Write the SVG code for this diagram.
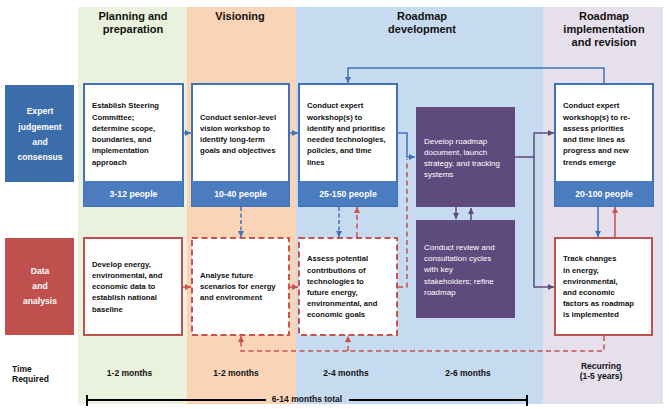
<svg xmlns="http://www.w3.org/2000/svg" width="669" height="409" viewBox="0 0 669 409">
<defs>
<style>
.hd{font-family:"Liberation Sans",Arial,sans-serif;font-weight:bold;font-size:11px;fill:#111;text-anchor:middle}
.bt{font-family:"Liberation Sans",Arial,sans-serif;font-weight:bold;font-size:7.7px;fill:#111}
.pt{font-family:"Liberation Sans",Arial,sans-serif;font-size:8px;fill:#fff}
.pp{font-family:"Liberation Sans",Arial,sans-serif;font-weight:bold;font-size:8.7px;fill:#fff;text-anchor:middle}
.lb{font-family:"Liberation Sans",Arial,sans-serif;font-weight:bold;font-size:8.6px;fill:#fff;text-anchor:middle}
.tm{font-family:"Liberation Sans",Arial,sans-serif;font-weight:bold;font-size:8.5px;fill:#111;text-anchor:middle}
.bx{fill:#fff;stroke:#4272B6;stroke-width:2}
.band{fill:#4A7CBF}
.rb{fill:#fff;stroke:#C0504D;stroke-width:2}
.rd{fill:#fff;stroke:#C9514E;stroke-width:2;stroke-dasharray:6 3.5}
.pu{fill:#5F4A7D}
.cb{fill:none;stroke:#4272B6;stroke-width:1.5}
.cbd{fill:none;stroke:#4272B6;stroke-width:1.5;stroke-dasharray:4 2.5}
.cr{fill:none;stroke:#C9514E;stroke-width:1.5}
.crd{fill:none;stroke:#C9514E;stroke-width:1.5;stroke-dasharray:5 3.5}
.cp{fill:none;stroke:#5F4A7D;stroke-width:1.5}
</style>
<marker id="ab" viewBox="0 0 10 10" refX="10" refY="5" markerWidth="6" markerHeight="6" markerUnits="userSpaceOnUse" orient="auto"><path d="M0,0 L10,5 L0,10 z" fill="#4272B6"/></marker>
<marker id="ar" viewBox="0 0 10 10" refX="10" refY="5" markerWidth="6" markerHeight="6" markerUnits="userSpaceOnUse" orient="auto"><path d="M0,0 L10,5 L0,10 z" fill="#C9514E"/></marker>
<marker id="ap" viewBox="0 0 10 10" refX="10" refY="5" markerWidth="6" markerHeight="6" markerUnits="userSpaceOnUse" orient="auto"><path d="M0,0 L10,5 L0,10 z" fill="#5F4A7D"/></marker>
</defs>
<rect width="669" height="409" fill="#fff"/>
<g id="columns">
<rect x="78" y="7" width="109" height="397" fill="#EAF1DD"/>
<rect x="187" y="7" width="109" height="397" fill="#FAD4B6"/>
<rect x="296" y="7" width="247" height="397" fill="#C6DAF0"/>
<rect x="543" y="7" width="120" height="397" fill="#E5E0EC"/>
<text class="hd" x="133" y="20">Planning and</text>
<text class="hd" x="133" y="33">preparation</text>
<text class="hd" x="240" y="20">Visioning</text>
<text class="hd" x="422" y="20">Roadmap</text>
<text class="hd" x="422" y="33">development</text>
<text class="hd" x="604" y="20">Roadmap</text>
<text class="hd" x="604" y="33">implementation</text>
<text class="hd" x="604" y="46">and revision</text>
</g>
<g id="label-expert">
<rect x="5" y="85" width="69" height="97" fill="#3C6DAB"/>
<text class="lb" x="40" y="114">Expert</text>
<text class="lb" x="40" y="130">judgement</text>
<text class="lb" x="40" y="145">and</text>
<text class="lb" x="40" y="160">consensus</text>
</g>
<g id="label-data">
<rect x="5" y="238" width="69" height="97" fill="#C0504D"/>
<text class="lb" x="40" y="274">Data</text>
<text class="lb" x="40" y="289">and</text>
<text class="lb" x="40" y="304">analysis</text>
</g>
<g id="connectors">
<path class="cb" d="M183,133 H191" marker-end="url(#ab)"/>
<path class="cb" d="M289,133 H298" marker-end="url(#ab)"/>
<path class="cb" d="M397,133 H407 V157 H415" marker-end="url(#ab)"/>
<path class="cb" d="M604,84 V68 H348 V83" marker-end="url(#ab)"/>
<path class="cb" d="M598,207 V237" marker-end="url(#ab)"/>
<path class="cbd" d="M241,207 V237" marker-end="url(#ab)"/>
<path class="cbd" d="M339,207 V237" marker-end="url(#ab)"/>
<path class="cr" d="M182,287 H191" marker-end="url(#ar)"/>
<path class="cr" d="M289,287 H298" marker-end="url(#ar)"/>
<path class="cr" d="M615,237 V207" marker-end="url(#ar)"/>
<path class="crd" d="M357,237 V207" marker-end="url(#ar)"/>
<path class="crd" d="M398,287 H407 V159"/>
<path class="crd" d="M604,336 V351 H241 V336" marker-end="url(#ar)"/>
<path class="crd" d="M348,351 V336" marker-end="url(#ar)"/>
<path class="cp" d="M515,157 H534 V133 H554" marker-end="url(#ap)"/>
<path class="cp" d="M534,157 V287 H554" marker-end="url(#ap)"/>
<path class="cp" d="M456,207 V219" marker-end="url(#ap)"/>
<path class="cp" d="M471,220 V208" marker-end="url(#ap)"/>
</g>
<g id="n-steering">
<rect class="bx" x="84" y="84" width="99" height="122"/>
<rect class="band" x="84" y="181" width="99" height="25"/>
<text class="bt" x="92" y="108">Establish Steering</text>
<text class="bt" x="92" y="119.5">Committee;</text>
<text class="bt" x="92" y="131">determine scope,</text>
<text class="bt" x="92" y="142">boundaries, and</text>
<text class="bt" x="92" y="153">implementation</text>
<text class="bt" x="92" y="164.5">approach</text>
<text class="pp" x="133.5" y="197">3-12 people</text>
</g>
<g id="n-vision">
<rect class="bx" x="192" y="84" width="97" height="122"/>
<rect class="band" x="192" y="181" width="97" height="25"/>
<text class="bt" x="200" y="119.5">Conduct senior-level</text>
<text class="bt" x="200" y="131">vision workshop to</text>
<text class="bt" x="200" y="142">identify long-term</text>
<text class="bt" x="200" y="153">goals and objectives</text>
<text class="pp" x="240.5" y="197">10-40 people</text>
</g>
<g id="n-expert">
<rect class="bx" x="299" y="84" width="98" height="122"/>
<rect class="band" x="299" y="181" width="98" height="25"/>
<text class="bt" x="307" y="108">Conduct expert</text>
<text class="bt" x="307" y="119.5">workshop(s) to</text>
<text class="bt" x="307" y="131">identify and prioritise</text>
<text class="bt" x="307" y="142">needed technologies,</text>
<text class="bt" x="307" y="153">policies, and time</text>
<text class="bt" x="307" y="164.5">lines</text>
<text class="pp" x="348" y="197">25-150 people</text>
</g>
<g id="n-reassess">
<rect class="bx" x="555" y="84" width="98" height="122"/>
<rect class="band" x="555" y="181" width="98" height="25"/>
<text class="bt" x="563" y="108">Conduct expert</text>
<text class="bt" x="563" y="119.5">workshop(s) to re-</text>
<text class="bt" x="563" y="131">assess priorities</text>
<text class="bt" x="563" y="142">and time lines as</text>
<text class="bt" x="563" y="153">progress and new</text>
<text class="bt" x="563" y="164.5">trends emerge</text>
<text class="pp" x="604" y="197">20-100 people</text>
</g>
<g id="n-develop">
<rect class="pu" x="416" y="107" width="99" height="100"/>
<text class="pt" x="424" y="143.5">Develop roadmap</text>
<text class="pt" x="424" y="154.5">document, launch</text>
<text class="pt" x="424" y="165.5">strategy, and tracking</text>
<text class="pt" x="424" y="177">systems</text>
</g>
<g id="n-review">
<rect class="pu" x="416" y="220" width="99" height="98"/>
<text class="pt" x="424" y="250">Conduct review and</text>
<text class="pt" x="424" y="261">consultation cycles</text>
<text class="pt" x="424" y="272">with key</text>
<text class="pt" x="424" y="283.5">stakeholders; refine</text>
<text class="pt" x="424" y="295">roadmap</text>
</g>
<g id="n-baseline">
<rect class="rb" x="84" y="238" width="98" height="97"/>
<text class="bt" x="92" y="267">Develop energy,</text>
<text class="bt" x="92" y="278">environmental, and</text>
<text class="bt" x="92" y="289">economic data to</text>
<text class="bt" x="92" y="300">establish national</text>
<text class="bt" x="92" y="312">baseline</text>
</g>
<g id="n-scenarios">
<rect class="rd" x="192" y="238" width="97" height="97"/>
<text class="bt" x="200" y="278">Analyse future</text>
<text class="bt" x="200" y="289">scenarios for energy</text>
<text class="bt" x="200" y="300">and environment</text>
</g>
<g id="n-assess">
<rect class="rd" x="299" y="238" width="98" height="97"/>
<text class="bt" x="307" y="261">Assess potential</text>
<text class="bt" x="307" y="272.5">contributions of</text>
<text class="bt" x="307" y="284">technologies to</text>
<text class="bt" x="307" y="295">future energy,</text>
<text class="bt" x="307" y="306">environmental, and</text>
<text class="bt" x="307" y="317">economic goals</text>
</g>
<g id="n-track">
<rect class="rb" x="555" y="238" width="97" height="97"/>
<text class="bt" x="563" y="261">Track changes</text>
<text class="bt" x="563" y="272.5">in energy,</text>
<text class="bt" x="563" y="284">environmental,</text>
<text class="bt" x="563" y="295">and economic</text>
<text class="bt" x="563" y="306">factors as roadmap</text>
<text class="bt" x="563" y="317">is implemented</text>
</g>
<g id="time">
<text class="tm" x="12" y="372" text-anchor="start" style="text-anchor:start">Time</text>
<text class="tm" x="12" y="382" style="text-anchor:start">Required</text>
<text class="tm" x="129.5" y="376">1-2 months</text>
<text class="tm" x="236" y="376">1-2 months</text>
<text class="tm" x="346" y="376">2-4 months</text>
<text class="tm" x="468" y="376">2-6 months</text>
<text class="tm" x="601" y="369">Recurring</text>
<text class="tm" x="601" y="379">(1-5 years)</text>
<path d="M87,400 H266 M349,400 H527 M87,395 V406 M527,395 V406" fill="none" stroke="#000" stroke-width="2"/>
<text class="tm" x="307" y="402">6-14 months total</text>
</g>
</svg>
